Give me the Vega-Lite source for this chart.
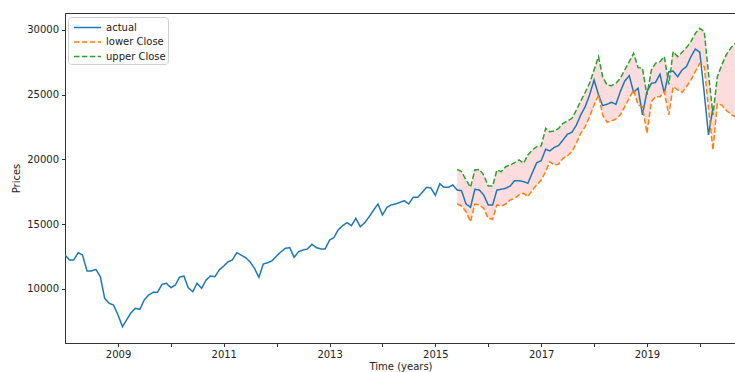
{
 "$schema": "https://vega.github.io/schema/vega-lite/v6.json",
 "width": 671,
 "height": 330,
 "autosize": {"type": "none"},
 "padding": {"left": 65, "top": 13, "right": 0, "bottom": 29},
 "background": "white",
 "config": {
  "font": "DejaVu Sans",
  "view": {"stroke": "#333", "strokeWidth": 1},
  "axis": {"grid": false, "domainColor": "#333", "tickColor": "#333", "labelColor": "#222", "labelFontSize": 10, "titleFontSize": 10, "titleFontWeight": "normal", "titleColor": "#222", "tickSize": 3.5, "labelPadding": 3, "labelFont": "DejaVu Sans", "titleFont": "DejaVu Sans"},
  "legend": {"orient": "none", "legendX": 3, "legendY": 4, "strokeColor": "#d0d0d0", "fillColor": "white", "padding": 2, "cornerRadius": 3, "symbolType": "M-1.8,0H1.8", "symbolSize": 225, "symbolOffset": 9, "symbolStrokeWidth": 1.5, "labelFontSize": 10, "labelColor": "#222", "labelFont": "DejaVu Sans", "labelOffset": 10, "rowPadding": 0.5}
 },
 "datasets": {
  "lines": [
   {"date":"2008-01-01","series":"actual","value":12625},{"date":"2008-02-01","series":"actual","value":12240},{"date":"2008-03-01","series":"actual","value":12240},{"date":"2008-04-01","series":"actual","value":12800},{"date":"2008-05-01","series":"actual","value":12620},{"date":"2008-06-01","series":"actual","value":11390},{"date":"2008-07-01","series":"actual","value":11390},{"date":"2008-08-01","series":"actual","value":11520},{"date":"2008-09-01","series":"actual","value":10950},{"date":"2008-10-01","series":"actual","value":9280},{"date":"2008-11-01","series":"actual","value":8900},{"date":"2008-12-01","series":"actual","value":8760},
   {"date":"2009-01-01","series":"actual","value":7990},{"date":"2009-02-01","series":"actual","value":7090},{"date":"2009-03-01","series":"actual","value":7610},{"date":"2009-04-01","series":"actual","value":8170},{"date":"2009-05-01","series":"actual","value":8510},{"date":"2009-06-01","series":"actual","value":8430},{"date":"2009-07-01","series":"actual","value":9150},{"date":"2009-08-01","series":"actual","value":9540},{"date":"2009-09-01","series":"actual","value":9750},{"date":"2009-10-01","series":"actual","value":9750},{"date":"2009-11-01","series":"actual","value":10360},{"date":"2009-12-01","series":"actual","value":10440},
   {"date":"2010-01-01","series":"actual","value":10100},{"date":"2010-02-01","series":"actual","value":10310},{"date":"2010-03-01","series":"actual","value":10900},{"date":"2010-04-01","series":"actual","value":11000},{"date":"2010-05-01","series":"actual","value":10100},{"date":"2010-06-01","series":"actual","value":9790},{"date":"2010-07-01","series":"actual","value":10440},{"date":"2010-08-01","series":"actual","value":10050},{"date":"2010-09-01","series":"actual","value":10690},{"date":"2010-10-01","series":"actual","value":11000},{"date":"2010-11-01","series":"actual","value":10950},{"date":"2010-12-01","series":"actual","value":11470},
   {"date":"2011-01-01","series":"actual","value":11780},{"date":"2011-02-01","series":"actual","value":12110},{"date":"2011-03-01","series":"actual","value":12240},{"date":"2011-04-01","series":"actual","value":12800},{"date":"2011-05-01","series":"actual","value":12620},{"date":"2011-06-01","series":"actual","value":12420},{"date":"2011-07-01","series":"actual","value":12110},{"date":"2011-08-01","series":"actual","value":11600},{"date":"2011-09-01","series":"actual","value":10900},{"date":"2011-10-01","series":"actual","value":11930},{"date":"2011-11-01","series":"actual","value":12030},{"date":"2011-12-01","series":"actual","value":12190},
   {"date":"2012-01-01","series":"actual","value":12550},{"date":"2012-02-01","series":"actual","value":12880},{"date":"2012-03-01","series":"actual","value":13140},{"date":"2012-04-01","series":"actual","value":13190},{"date":"2012-05-01","series":"actual","value":12450},{"date":"2012-06-01","series":"actual","value":12880},{"date":"2012-07-01","series":"actual","value":13010},{"date":"2012-08-01","series":"actual","value":13090},{"date":"2012-09-01","series":"actual","value":13450},{"date":"2012-10-01","series":"actual","value":13200},{"date":"2012-11-01","series":"actual","value":13090},{"date":"2012-12-01","series":"actual","value":13090},
   {"date":"2013-01-01","series":"actual","value":13780},{"date":"2013-02-01","series":"actual","value":13990},{"date":"2013-03-01","series":"actual","value":14560},{"date":"2013-04-01","series":"actual","value":14890},{"date":"2013-05-01","series":"actual","value":15120},{"date":"2013-06-01","series":"actual","value":14890},{"date":"2013-07-01","series":"actual","value":15460},{"date":"2013-08-01","series":"actual","value":14810},{"date":"2013-09-01","series":"actual","value":15120},{"date":"2013-10-01","series":"actual","value":15580},{"date":"2013-11-01","series":"actual","value":16100},{"date":"2013-12-01","series":"actual","value":16560},
   {"date":"2014-01-01","series":"actual","value":15710},{"date":"2014-02-01","series":"actual","value":16310},{"date":"2014-03-01","series":"actual","value":16490},{"date":"2014-04-01","series":"actual","value":16560},{"date":"2014-05-01","series":"actual","value":16690},{"date":"2014-06-01","series":"actual","value":16820},{"date":"2014-07-01","series":"actual","value":16560},{"date":"2014-08-01","series":"actual","value":17080},{"date":"2014-09-01","series":"actual","value":17080},{"date":"2014-10-01","series":"actual","value":17440},{"date":"2014-11-01","series":"actual","value":17850},{"date":"2014-12-01","series":"actual","value":17800},
   {"date":"2015-01-01","series":"actual","value":17230},{"date":"2015-02-01","series":"actual","value":18130},{"date":"2015-03-01","series":"actual","value":17850},{"date":"2015-04-01","series":"actual","value":17850},{"date":"2015-05-01","series":"actual","value":18030},{"date":"2015-06-01","series":"actual","value":17640},{"date":"2015-07-01","series":"actual","value":17590},{"date":"2015-08-01","series":"actual","value":16560},{"date":"2015-09-01","series":"actual","value":16310},{"date":"2015-10-01","series":"actual","value":17700},{"date":"2015-11-01","series":"actual","value":17640},{"date":"2015-12-01","series":"actual","value":17260},
   {"date":"2016-01-01","series":"actual","value":16490},{"date":"2016-02-01","series":"actual","value":16490},{"date":"2016-03-01","series":"actual","value":17640},{"date":"2016-04-01","series":"actual","value":17700},{"date":"2016-05-01","series":"actual","value":17780},{"date":"2016-06-01","series":"actual","value":17950},{"date":"2016-07-01","series":"actual","value":18360},{"date":"2016-08-01","series":"actual","value":18360},{"date":"2016-09-01","series":"actual","value":18290},{"date":"2016-10-01","series":"actual","value":18160},{"date":"2016-11-01","series":"actual","value":18980},{"date":"2016-12-01","series":"actual","value":19750},
   {"date":"2017-01-01","series":"actual","value":19910},{"date":"2017-02-01","series":"actual","value":20790},{"date":"2017-03-01","series":"actual","value":20660},{"date":"2017-04-01","series":"actual","value":20930},{"date":"2017-05-01","series":"actual","value":21080},{"date":"2017-06-01","series":"actual","value":21510},{"date":"2017-07-01","series":"actual","value":21950},{"date":"2017-08-01","series":"actual","value":22100},{"date":"2017-09-01","series":"actual","value":22660},{"date":"2017-10-01","series":"actual","value":23440},{"date":"2017-11-01","series":"actual","value":24080},{"date":"2017-12-01","series":"actual","value":24980},
   {"date":"2018-01-01","series":"actual","value":26140},{"date":"2018-02-01","series":"actual","value":24980},{"date":"2018-03-01","series":"actual","value":24160},{"date":"2018-04-01","series":"actual","value":24260},{"date":"2018-05-01","series":"actual","value":24420},{"date":"2018-06-01","series":"actual","value":24260},{"date":"2018-07-01","series":"actual","value":25240},{"date":"2018-08-01","series":"actual","value":26060},{"date":"2018-09-01","series":"actual","value":26470},{"date":"2018-10-01","series":"actual","value":25190},{"date":"2018-11-01","series":"actual","value":25500},{"date":"2018-12-01","series":"actual","value":23440},
   {"date":"2019-01-01","series":"actual","value":25240},{"date":"2019-02-01","series":"actual","value":25880},{"date":"2019-03-01","series":"actual","value":25940},{"date":"2019-04-01","series":"actual","value":26580},{"date":"2019-05-01","series":"actual","value":25110},{"date":"2019-06-01","series":"actual","value":26780},{"date":"2019-07-01","series":"actual","value":26830},{"date":"2019-08-01","series":"actual","value":26390},{"date":"2019-09-01","series":"actual","value":26910},{"date":"2019-10-01","series":"actual","value":27170},{"date":"2019-11-01","series":"actual","value":27940},{"date":"2019-12-01","series":"actual","value":28530},
   {"date":"2020-01-01","series":"actual","value":28280},{"date":"2020-02-01","series":"actual","value":25100},{"date":"2020-03-01","series":"actual","value":21900},{"date":"2020-04-01","series":"actual","value":24000},

   {"date":"2015-06-01","series":"lower Close","value":16560},{"date":"2015-07-01","series":"lower Close","value":16410},{"date":"2015-08-01","series":"lower Close","value":15970},{"date":"2015-09-01","series":"lower Close","value":15200},{"date":"2015-10-01","series":"lower Close","value":16560},{"date":"2015-11-01","series":"lower Close","value":16490},{"date":"2015-12-01","series":"lower Close","value":16230},
   {"date":"2016-01-01","series":"lower Close","value":15460},{"date":"2016-02-01","series":"lower Close","value":15380},{"date":"2016-03-01","series":"lower Close","value":16490},{"date":"2016-04-01","series":"lower Close","value":16410},{"date":"2016-05-01","series":"lower Close","value":16560},{"date":"2016-06-01","series":"lower Close","value":16870},{"date":"2016-07-01","series":"lower Close","value":17000},{"date":"2016-08-01","series":"lower Close","value":17260},{"date":"2016-09-01","series":"lower Close","value":17390},{"date":"2016-10-01","series":"lower Close","value":17130},{"date":"2016-11-01","series":"lower Close","value":17640},{"date":"2016-12-01","series":"lower Close","value":18030},
   {"date":"2017-01-01","series":"lower Close","value":18420},{"date":"2017-02-01","series":"lower Close","value":19060},{"date":"2017-03-01","series":"lower Close","value":19830},{"date":"2017-04-01","series":"lower Close","value":19570},{"date":"2017-05-01","series":"lower Close","value":19630},{"date":"2017-06-01","series":"lower Close","value":20090},{"date":"2017-07-01","series":"lower Close","value":20290},{"date":"2017-08-01","series":"lower Close","value":20600},{"date":"2017-09-01","series":"lower Close","value":21250},{"date":"2017-10-01","series":"lower Close","value":22020},{"date":"2017-11-01","series":"lower Close","value":22530},{"date":"2017-12-01","series":"lower Close","value":23300},
   {"date":"2018-01-01","series":"lower Close","value":24210},{"date":"2018-02-01","series":"lower Close","value":24980},{"date":"2018-03-01","series":"lower Close","value":23440},{"date":"2018-04-01","series":"lower Close","value":22870},{"date":"2018-05-01","series":"lower Close","value":22970},{"date":"2018-06-01","series":"lower Close","value":23130},{"date":"2018-07-01","series":"lower Close","value":23440},{"date":"2018-08-01","series":"lower Close","value":24080},{"date":"2018-09-01","series":"lower Close","value":24730},{"date":"2018-10-01","series":"lower Close","value":25370},{"date":"2018-11-01","series":"lower Close","value":24210},{"date":"2018-12-01","series":"lower Close","value":24080},
   {"date":"2019-01-01","series":"lower Close","value":22020},{"date":"2019-02-01","series":"lower Close","value":24460},{"date":"2019-03-01","series":"lower Close","value":24850},{"date":"2019-04-01","series":"lower Close","value":24850},{"date":"2019-05-01","series":"lower Close","value":25240},{"date":"2019-06-01","series":"lower Close","value":23440},{"date":"2019-07-01","series":"lower Close","value":25620},{"date":"2019-08-01","series":"lower Close","value":25370},{"date":"2019-09-01","series":"lower Close","value":25190},{"date":"2019-10-01","series":"lower Close","value":25620},{"date":"2019-11-01","series":"lower Close","value":26140},{"date":"2019-12-01","series":"lower Close","value":26780},
   {"date":"2020-01-01","series":"lower Close","value":27430},{"date":"2020-02-01","series":"lower Close","value":27170},{"date":"2020-03-01","series":"lower Close","value":23950},{"date":"2020-04-01","series":"lower Close","value":20730},{"date":"2020-05-01","series":"lower Close","value":24300},{"date":"2020-06-01","series":"lower Close","value":24200},{"date":"2020-07-01","series":"lower Close","value":23800},{"date":"2020-08-01","series":"lower Close","value":23500},{"date":"2020-09-01","series":"lower Close","value":23300},

   {"date":"2015-06-01","series":"upper Close","value":19240},{"date":"2015-07-01","series":"upper Close","value":19060},{"date":"2015-08-01","series":"upper Close","value":18420},{"date":"2015-09-01","series":"upper Close","value":17850},{"date":"2015-10-01","series":"upper Close","value":19190},{"date":"2015-11-01","series":"upper Close","value":19240},{"date":"2015-12-01","series":"upper Close","value":18800},
   {"date":"2016-01-01","series":"upper Close","value":17950},{"date":"2016-02-01","series":"upper Close","value":17950},{"date":"2016-03-01","series":"upper Close","value":19190},{"date":"2016-04-01","series":"upper Close","value":19060},{"date":"2016-05-01","series":"upper Close","value":19440},{"date":"2016-06-01","series":"upper Close","value":19570},{"date":"2016-07-01","series":"upper Close","value":19750},{"date":"2016-08-01","series":"upper Close","value":19960},{"date":"2016-09-01","series":"upper Close","value":19710},{"date":"2016-10-01","series":"upper Close","value":20350},{"date":"2016-11-01","series":"upper Close","value":20730},{"date":"2016-12-01","series":"upper Close","value":20990},
   {"date":"2017-01-01","series":"upper Close","value":21050},{"date":"2017-02-01","series":"upper Close","value":22410},{"date":"2017-03-01","series":"upper Close","value":22150},{"date":"2017-04-01","series":"upper Close","value":22200},{"date":"2017-05-01","series":"upper Close","value":22400},{"date":"2017-06-01","series":"upper Close","value":22790},{"date":"2017-07-01","series":"upper Close","value":22970},{"date":"2017-08-01","series":"upper Close","value":23180},{"date":"2017-09-01","series":"upper Close","value":23820},{"date":"2017-10-01","series":"upper Close","value":24520},{"date":"2017-11-01","series":"upper Close","value":25190},{"date":"2017-12-01","series":"upper Close","value":25880},
   {"date":"2018-01-01","series":"upper Close","value":26910},{"date":"2018-02-01","series":"upper Close","value":27940},{"date":"2018-03-01","series":"upper Close","value":26390},{"date":"2018-04-01","series":"upper Close","value":25750},{"date":"2018-05-01","series":"upper Close","value":25700},{"date":"2018-06-01","series":"upper Close","value":25880},{"date":"2018-07-01","series":"upper Close","value":26270},{"date":"2018-08-01","series":"upper Close","value":26910},{"date":"2018-09-01","series":"upper Close","value":27550},{"date":"2018-10-01","series":"upper Close","value":28200},{"date":"2018-11-01","series":"upper Close","value":27090},{"date":"2018-12-01","series":"upper Close","value":27040},
   {"date":"2019-01-01","series":"upper Close","value":24980},{"date":"2019-02-01","series":"upper Close","value":26910},{"date":"2019-03-01","series":"upper Close","value":27430},{"date":"2019-04-01","series":"upper Close","value":27550},{"date":"2019-05-01","series":"upper Close","value":27940},{"date":"2019-06-01","series":"upper Close","value":25800},{"date":"2019-07-01","series":"upper Close","value":28330},{"date":"2019-08-01","series":"upper Close","value":27940},{"date":"2019-09-01","series":"upper Close","value":28280},{"date":"2019-10-01","series":"upper Close","value":28640},{"date":"2019-11-01","series":"upper Close","value":29100},{"date":"2019-12-01","series":"upper Close","value":29740},
   {"date":"2020-01-01","series":"upper Close","value":30130},{"date":"2020-02-01","series":"upper Close","value":29870},{"date":"2020-03-01","series":"upper Close","value":26650},{"date":"2020-04-01","series":"upper Close","value":23440},{"date":"2020-05-01","series":"upper Close","value":26390},{"date":"2020-06-01","series":"upper Close","value":27300},{"date":"2020-07-01","series":"upper Close","value":28070},{"date":"2020-08-01","series":"upper Close","value":28590},{"date":"2020-09-01","series":"upper Close","value":28970}
  ]
 },
 "data": {"name": "lines"},
 "layer": [
  {
   "transform": [
    {"filter": "datum.series != 'actual'"},
    {"pivot": "series", "value": "value", "groupby": ["date"]}
   ],
   "mark": {"type": "area", "color": "#fcdcdc", "clip": true},
   "encoding": {
    "x": {"field": "date", "type": "temporal", "scale": {"type": "utc", "domain": [{"year": 2008, "month": 1, "date": 1, "utc": true}, {"year": 2020, "month": 9, "date": 7, "utc": true}]}},
    "y": {"field": "lower Close", "type": "quantitative"},
    "y2": {"field": "upper Close"}
   }
  },
  {
   "mark": {"type": "line", "strokeWidth": 1.5, "clip": true},
   "encoding": {
    "x": {
     "field": "date", "type": "temporal",
     "scale": {"type": "utc", "domain": [{"year": 2008, "month": 1, "date": 1, "utc": true}, {"year": 2020, "month": 9, "date": 7, "utc": true}]},
     "axis": {
      "title": "Time (years)", "titlePadding": 2,
      "values": [{"year": 2009, "month": 1, "date": 1, "utc": true}, {"year": 2010, "month": 1, "date": 1, "utc": true}, {"year": 2011, "month": 1, "date": 1, "utc": true}, {"year": 2012, "month": 1, "date": 1, "utc": true}, {"year": 2013, "month": 1, "date": 1, "utc": true}, {"year": 2014, "month": 1, "date": 1, "utc": true}, {"year": 2015, "month": 1, "date": 1, "utc": true}, {"year": 2016, "month": 1, "date": 1, "utc": true}, {"year": 2017, "month": 1, "date": 1, "utc": true}, {"year": 2018, "month": 1, "date": 1, "utc": true}, {"year": 2019, "month": 1, "date": 1, "utc": true}, {"year": 2020, "month": 1, "date": 1, "utc": true}],
      "labelExpr": "utcyear(datum.value) % 2 == 1 ? utcFormat(datum.value, '%Y') : ''"
     }
    },
    "y": {
     "field": "value", "type": "quantitative",
     "scale": {"domain": [5830, 31310], "nice": false, "zero": false},
     "axis": {"title": "Prices", "titlePadding": 5, "values": [10000, 15000, 20000, 25000, 30000], "format": "d"}
    },
    "color": {
     "field": "series", "type": "nominal",
     "scale": {"domain": ["actual", "lower Close", "upper Close"], "range": ["#1f77b4", "#ff7f0e", "#2ca02c"]},
     "legend": {"title": null}
    },
    "strokeDash": {
     "field": "series", "type": "nominal",
     "scale": {"domain": ["actual", "lower Close", "upper Close"], "range": [[1, 0], [5.5, 2.4], [5.5, 2.4]]},
     "legend": {"title": null}
    }
   }
  }
 ]
}
